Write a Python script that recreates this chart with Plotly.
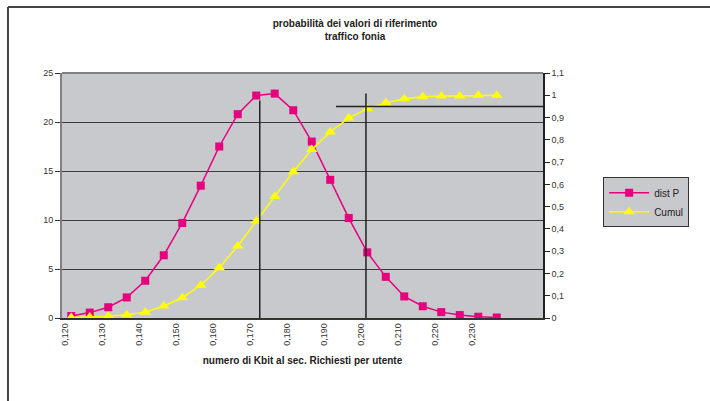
import plotly.graph_objects as go

# ---- data ----
x_values = [0.120, 0.125, 0.130, 0.135, 0.140, 0.145, 0.150, 0.155, 0.160, 0.165,
            0.170, 0.175, 0.180, 0.185, 0.190, 0.195, 0.200, 0.205, 0.210, 0.215,
            0.220, 0.225, 0.230, 0.235, 0.240, 0.245]
categories = [f"{v:.3f}".replace(".", ",") for v in x_values]

dist_p = [0.2, 0.55, 1.1, 2.1, 3.8, 6.4, 9.7, 13.5, 17.5, 20.8, 22.7, 22.9,
          21.2, 18.0, 14.1, 10.2, 6.7, 4.2, 2.2, 1.2, 0.6, 0.3, 0.13, 0.05]
cumul = [0.002, 0.004, 0.008, 0.015, 0.026, 0.054, 0.091, 0.147, 0.226, 0.323,
         0.435, 0.546, 0.657, 0.757, 0.835, 0.898, 0.939, 0.966, 0.984, 0.993,
         0.997, 0.997, 1.0, 1.0]

tick_labels = categories[:24:2]   # 0,120 ... 0,230
left_ticks = [0, 5, 10, 15, 20, 25]

title_lines = ["probabilità dei valori di riferimento", "traffico fonia"]
x_title = "numero di Kbit al sec. Richiesti per utente"

MAGENTA = "#E6007E"
YELLOW = "#FFFF00"
PLOT_BG = "#C8C9CD"
FONT = "Liberation Sans, Arial, sans-serif"

fig = go.Figure()
fig.add_trace(go.Scatter(
    x=categories[:len(dist_p)], y=dist_p, name="dist P", mode="lines+markers",
    line=dict(color=MAGENTA, width=1.5),
    marker=dict(symbol="square", size=8, color=MAGENTA),
    yaxis="y", xaxis="x"))
fig.add_trace(go.Scatter(
    x=categories[:len(cumul)], y=cumul, name="Cumul", mode="lines+markers",
    line=dict(color=YELLOW, width=1.5),
    marker=dict(symbol="triangle-up", size=10, color=YELLOW),
    yaxis="y2", xaxis="x"))

n = len(categories)
fig.update_layout(
    width=710, height=401,
    margin=dict(l=62, r=167, t=73, b=83),
    paper_bgcolor="white", plot_bgcolor=PLOT_BG,
    separators=", ",
    font=dict(family=FONT, size=9, color="#222"),
    title=dict(text="<b>" + "<br>".join(title_lines) + "</b>",
               x=0.5, xanchor="center", y=0.933, yanchor="top",
               font=dict(size=10, family=FONT, color="#222")),
    xaxis=dict(type="category", categoryorder="array", categoryarray=categories,
               range=[-0.5, n - 0.5], tickmode="array", tickvals=tick_labels,
               ticktext=tick_labels, tickangle=-90, ticks="",
               ticklabelshift=-6,
               showgrid=False, showline=True, linecolor="#333", linewidth=1.5,
               zeroline=False, tickfont=dict(size=9, color="#333"),
               title=dict(text="<b>" + x_title + "</b>", standoff=12,
                          font=dict(size=10, color="#222"))),
    xaxis2=dict(overlaying="x", anchor="y", side="bottom", range=[-0.5, n - 0.5],
                tickmode="array", tickvals=[i + 0.5 for i in range(0, n - 1, 2)],
                ticks="outside", ticklen=4, tickcolor="#333", tickwidth=1,
                showticklabels=False, showgrid=False, showline=False, zeroline=False),
    yaxis=dict(range=[0, 25], tickmode="array", tickvals=left_ticks,
               ticks="outside", ticklen=5, tickcolor="#333",
               showgrid=True, gridcolor="#3a3a3a", gridwidth=1,
               showline=True, linecolor="#808080", linewidth=2, zeroline=False,
               tickfont=dict(size=9, color="#333")),
    yaxis2=dict(range=[0, 1.1], overlaying="y", side="right", dtick=0.1, tick0=0,
                ticks="outside", ticklen=5, tickcolor="#222",
                showgrid=False, showline=True, linecolor="#222", linewidth=1.5,
                zeroline=False, tickfont=dict(size=9, color="#333")),
    legend=dict(x=1.125, y=0.575, xanchor="left", yanchor="top",
                bgcolor=PLOT_BG, bordercolor="#333", borderwidth=1,
                itemwidth=40,
                font=dict(size=10, color="#222"), tracegroupgap=0),
    showlegend=True,
)

# plot border top
fig.add_shape(type="line", xref="paper", yref="paper", x0=0, x1=1, y0=1, y1=1,
              line=dict(color="#808080", width=2))
# chart area frame (top and left edges)
fig.add_shape(type="line", xref="paper", yref="paper", x0=-0.1123, x1=1.6,
              y0=1.2694, y1=1.2694, line=dict(color="#444", width=2))
fig.add_shape(type="line", xref="paper", yref="paper", x0=-0.1123, x1=-0.1123,
              y0=1.2694, y1=-0.5, line=dict(color="#444", width=2))
# hand-drawn reference lines
fig.add_shape(type="line", xref="x", yref="y", x0=10.19, x1=10.19, y0=22.2, y1=-1.0,
              line=dict(color="#222", width=1.5))
fig.add_shape(type="line", xref="x", yref="y", x0=15.93, x1=15.93, y0=22.9, y1=-0.4,
              line=dict(color="#222", width=1.5))
fig.add_shape(type="line", xref="x", yref="y2", x0=14.31, x1=25.82, y0=0.95, y1=0.95,
              line=dict(color="#222", width=1.5))

fig.write_html("out.html")
